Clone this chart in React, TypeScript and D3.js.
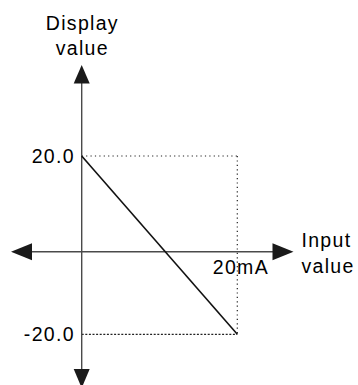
import React from "react";
import * as d3 from "d3";

// Schematic data: input (mA) -> display value
const inputMA: number[] = [0, 20];
const displayValues: number[] = [20.0, -20.0];
const yTickLabels: string[] = ["20.0", "-20.0"];
const yTickValues: number[] = [20, -20];
const xTickLabel = "20mA";
const xTickValue = 20;
const yAxisTitle: string[] = ["Display", "value"];
const xAxisTitle: string[] = ["Input", "value"];

const W = 358;
const H = 385;

export default function App() {
  const x = d3.scaleLinear().domain([0, 20]).range([81.7, 237.3]);
  const y = d3.scaleLinear().domain([-20, 20]).range([334.3, 156]);
  const axisY = 251.7;
  const axisX = x(0);

  const pts = inputMA.map((v, i) => [x(v), y(displayValues[i])] as [number, number]);
  const line = d3.line()(pts) || "";

  const font = "'Liberation Sans', Arial, sans-serif";
  const fs = 19.5;
  const ls = 1.3;
  const axisColor = "#4a4a4a";

  return (
    <svg
      width={W}
      height={H}
      style={{ position: "absolute", left: 0, top: 0, background: "#fff" }}
    >
      {/* dotted guides */}
      <line
        x1={axisX}
        x2={x(xTickValue)}
        y1={y(20)}
        y2={y(20)}
        stroke="#222"
        strokeWidth={1.2}
        strokeDasharray="1.2 3.2"
      />
      <line
        x1={x(xTickValue)}
        x2={x(xTickValue)}
        y1={y(20)}
        y2={y(-20)}
        stroke="#222"
        strokeWidth={1.2}
        strokeDasharray="1.2 3.2"
      />
      <line
        x1={axisX}
        x2={x(xTickValue)}
        y1={y(-20)}
        y2={y(-20)}
        stroke="#222"
        strokeWidth={1.2}
        strokeDasharray="2 1.6"
      />

      {/* horizontal axis */}
      <line x1={31} x2={274} y1={axisY} y2={axisY} stroke={axisColor} strokeWidth={1.4} />
      <path d={`M11,${axisY} L32,${axisY - 8.5} L32,${axisY + 8.5} Z`} fill="#1a1a1a" />
      <path d={`M293.5,${axisY} L272.5,${axisY - 8.5} L272.5,${axisY + 8.5} Z`} fill="#1a1a1a" />

      {/* vertical axis */}
      <line x1={axisX} x2={axisX} y1={82} y2={370} stroke={axisColor} strokeWidth={1.4} />
      <path d={`M${axisX},65 L${axisX - 8},83.5 L${axisX + 8},83.5 Z`} fill="#1a1a1a" />
      <path d={`M${axisX},388 L${axisX - 8},369 L${axisX + 8},369 Z`} fill="#1a1a1a" />

      {/* data line */}
      <path d={line} fill="none" stroke="#111" strokeWidth={1.6} />

      {/* y tick labels */}
      {yTickLabels.map((t, i) => (
        <text
          key={t}
          x={73.5 + ls}
          y={y(yTickValues[i]) + 7}
          textAnchor="end"
          fontFamily={font}
          fontSize={fs}
          letterSpacing={ls}
          fill="#000"
        >
          {t}
        </text>
      ))}

      {/* x tick label */}
      <text
        x={x(xTickValue) - 24.5}
        y={273.5}
        textAnchor="start"
        fontFamily={font}
        fontSize={fs}
        letterSpacing={ls}
        fill="#000"
      >
        {xTickLabel}
      </text>

      {/* y axis title */}
      {yAxisTitle.map((t, i) => (
        <text
          key={t}
          x={axisX + ls / 2}
          y={30 + i * 25}
          textAnchor="middle"
          fontFamily={font}
          fontSize={fs}
          letterSpacing={ls}
          fill="#000"
        >
          {t}
        </text>
      ))}

      {/* x axis title */}
      {xAxisTitle.map((t, i) => (
        <text
          key={t}
          x={301.5}
          y={246.7 + i * 26}
          textAnchor="start"
          fontFamily={font}
          fontSize={fs}
          letterSpacing={ls}
          fill="#000"
        >
          {t}
        </text>
      ))}
    </svg>
  );
}
